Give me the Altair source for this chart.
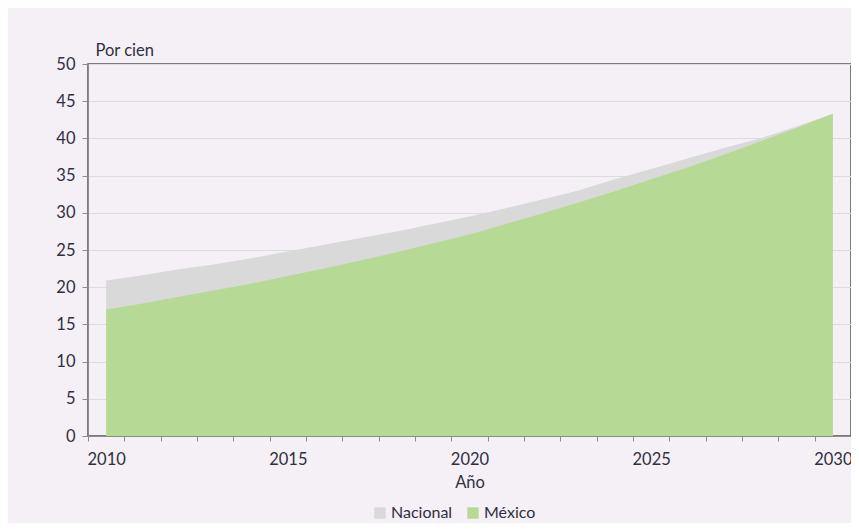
import altair as alt
import pandas as pd

years = list(range(2010, 2031))
nacional = [20.9, 21.6, 22.4, 23.1, 23.9, 24.8, 25.7, 26.6, 27.5, 28.5, 29.5,
            30.6, 31.8, 33.0, 34.5, 35.9, 37.3, 38.7, 40.0, 41.6, 43.3]
mexico = [17.0, 17.8, 18.7, 19.6, 20.5, 21.5, 22.5, 23.6, 24.7, 25.9, 27.1,
          28.5, 29.9, 31.4, 32.9, 34.5, 36.1, 37.8, 39.6, 41.4, 43.3]
series_names = ["Nacional", "México"]
series_colors = ["#d9d9d9", "#b6da95"]
x_ticks = [y - 0.5 for y in range(2010, 2032)]
y_ticks = list(range(0, 55, 5))

rows = []
for yr, n, m in zip(years, nacional, mexico):
    rows.append({"Año": yr, "serie": "Nacional", "valor": n})
    rows.append({"Año": yr, "serie": "México", "valor": m})
df = pd.DataFrame(rows)

W, H = 763, 372
FONT = "Lato"
FS = 16.5
TXT = "#2f2f40"

color = alt.Color(
    "serie:N",
    scale=alt.Scale(domain=series_names, range=series_colors),
    legend=alt.Legend(
        title=None, orient="none", direction="horizontal",
        legendX=284, legendY=441, symbolType="square", symbolSize=130,
        symbolStrokeWidth=0, labelFontSize=16, labelFont=FONT, labelColor=TXT,
        columnPadding=12, symbolOffset=0, labelOffset=3,
    ),
)

x = alt.X(
    "Año:Q",
    scale=alt.Scale(domain=[2009.5, 2030.5], nice=False, zero=False),
    axis=alt.Axis(
        values=x_ticks, title="Año", grid=False,
        labelExpr="(datum.value + 0.5) % 5 == 0 ? format(datum.value + 0.5, 'd') : ''",
        labelOffset=W / 21 / 2, labelFlush=False, labelOverlap=False,
        tickSize=5, tickColor="#8c8c8c", domainColor="#8c8c8c",
        labelFontSize=FS, labelFont=FONT, labelColor=TXT, labelPadding=10,
        titleFontSize=FS, titleFont=FONT, titleColor=TXT, titleFontWeight="normal",
        titlePadding=7,
    ),
)
y = alt.Y(
    "valor:Q",
    stack=None,
    scale=alt.Scale(domain=[0, 50], nice=False),
    axis=alt.Axis(
        values=y_ticks, title="Por cien", titleAngle=0, titleAlign="left",
        titleBaseline="alphabetic", titleX=7, titleY=-9,
        titleFontSize=FS, titleFont=FONT, titleColor=TXT, titleFontWeight="normal",
        gridColor="#dcdcdc", gridWidth=1.2, tickSize=6, tickColor="#8c8c8c",
        domainColor="#8c8c8c", labelFontSize=FS, labelFont=FONT, labelColor=TXT,
        labelPadding=7,
    ),
)

base = alt.Chart(df)
nac = base.transform_filter(alt.datum.serie == "Nacional").mark_area(opacity=1).encode(
    x=x, y=y, color=color)
mex = base.transform_filter(alt.datum.serie == "México").mark_area(opacity=1).encode(
    x=x, y=y, color=color)

chart = alt.layer(nac, mex).properties(
    width=W, height=H,
    background="#f4f0f6",
    autosize=alt.AutoSizeParams(type="none"),
    padding={"left": 80, "top": 56, "right": 0, "bottom": 87},
).configure_view(stroke="#555555", strokeWidth=1.5)

chart.save("out.html", embed_options={"renderer": "svg", "actions": False})
